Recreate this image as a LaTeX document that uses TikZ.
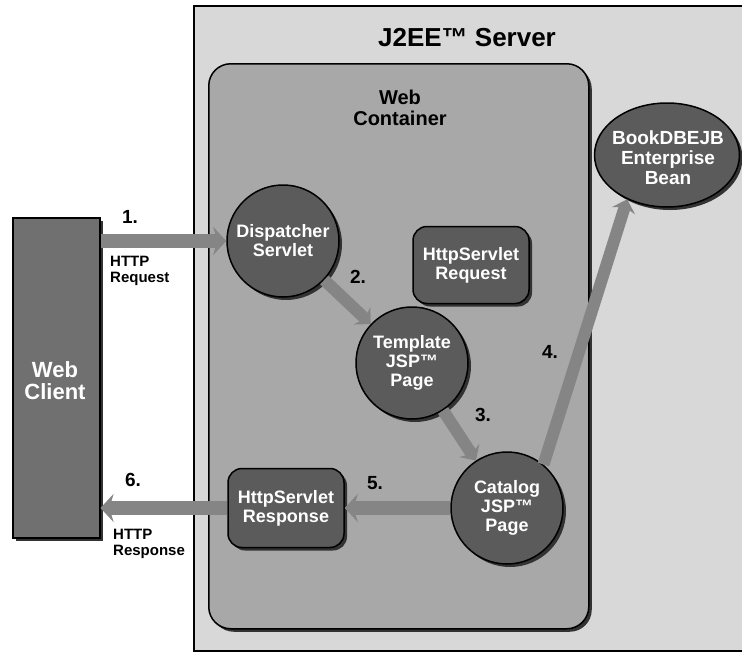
\documentclass[tikz,border=0pt]{standalone}
\usepackage{fontspec}
\setmainfont{Liberation Sans}
\usetikzlibrary{arrows.meta,shadows,shapes.geometric}
\definecolor{srv}{HTML}{D8D8D8}
\definecolor{cont}{HTML}{A8A8A8}
\definecolor{nodefill}{HTML}{5B5B5B}
\definecolor{client}{HTML}{707070}
\definecolor{arr}{HTML}{858585}
\tikzset{
 shad/.style={drop shadow={shadow xshift=3pt,shadow yshift=-3pt,fill=black!80,opacity=1}},
 comp/.style={fill=nodefill, draw=black, line width=1.5pt, text=white, font=\bfseries\fontsize{18}{19}\selectfont, align=center, shad},
 circ/.style={comp, circle, minimum size=112pt, inner sep=0pt},
 rbox/.style={comp, rounded corners=14pt, minimum width=116pt, minimum height=77pt, inner sep=0pt},
 flow/.style={draw=arr, line width=14pt, -{Stealth[length=13pt,width=28pt,inset=4pt]}},
 thinflow/.style={draw=arr, line width=12pt, -{Stealth[length=12pt,width=24pt,inset=4pt]}},
 num/.style={font=\bfseries\fontsize{19}{21}\selectfont},
 lbl/.style={font=\bfseries\fontsize{15}{16}\selectfont, align=left, inner sep=0pt},
}
\begin{document}
\begin{tikzpicture}[x=1pt,y=-1pt]
\useasboundingbox (0,0) rectangle (742,654);
\fill[white] (0,0) rectangle (742,654);
% server
\node[draw=black, line width=1.5pt, fill=srv, minimum width=560pt, minimum height=645pt, anchor=north west, inner sep=0pt] (server) at (193,5) {};
\node[font=\bfseries\fontsize{26}{28}\selectfont] (title) at (467,38) {J2EE™ Server};
% container
\node[draw=black, line width=1.5pt, fill=cont, rounded corners=22pt, minimum width=380pt, minimum height=565pt, anchor=north west, inner sep=0pt, shad] (cont) at (208,63) {};
\node[font=\bfseries\fontsize{20}{21}\selectfont, align=center] (conttitle) at (400,108) {Web\\Container};
% client
\node[draw=black, line width=1.5pt, fill=client, minimum width=87pt, minimum height=320pt, anchor=north west, inner sep=0pt, shad] (client) at (12,217) {};
\node[text=white, font=\bfseries\fontsize{22}{22}\selectfont, align=center] (clienttext) at (55,381) {Web\\Client};
% components
\node[circ] (disp) at (283,241) {Dispatcher\\Servlet};
\node[rbox] (req) at (471,265) {HttpServlet\\Request};
\node[circ] (tmpl) at (412,363) {Template\\JSP™\\Page};
\node[circ] (cat) at (507,508) {Catalog\\JSP™\\Page};
\node[rbox, minimum height=79pt] (resp) at (286,508) {HttpServlet\\Response};
\node[comp, ellipse, minimum width=145pt, minimum height=104pt, inner sep=0pt] (book) at (667,155) {};
\node[text=white, align=center, font=\bfseries\fontsize{19}{20}\selectfont] (booktext) at (668,158) {BookDBEJB\\Enterprise\\Bean};
% arrows
\draw[flow] (client.east |- disp.west) -- (disp.west);
\draw[thinflow] (disp) -- (tmpl);
\draw[thinflow] (tmpl) -- (cat);
\draw[thinflow] (cat.50) -- (book.228);
\draw[flow] (cat.west) -- (resp.east);
\draw[flow] (resp.west) -- (client.east |- resp.west);
% labels
\node[num] (n1) at (130,217) {1.};
\node[lbl, anchor=north west] (l1) at (110,256) {HTTP\\Request};
\node[num] (n2) at (358,277) {2.};
\node[num] (n3) at (483,415) {3.};
\node[num] (n4) at (550,352) {4.};
\node[num] (n5) at (375,483) {5.};
\node[num] (n6) at (133,480) {6.};
\node[lbl, anchor=north west] (l6) at (113,529) {HTTP\\Response};
\end{tikzpicture}
\end{document}
